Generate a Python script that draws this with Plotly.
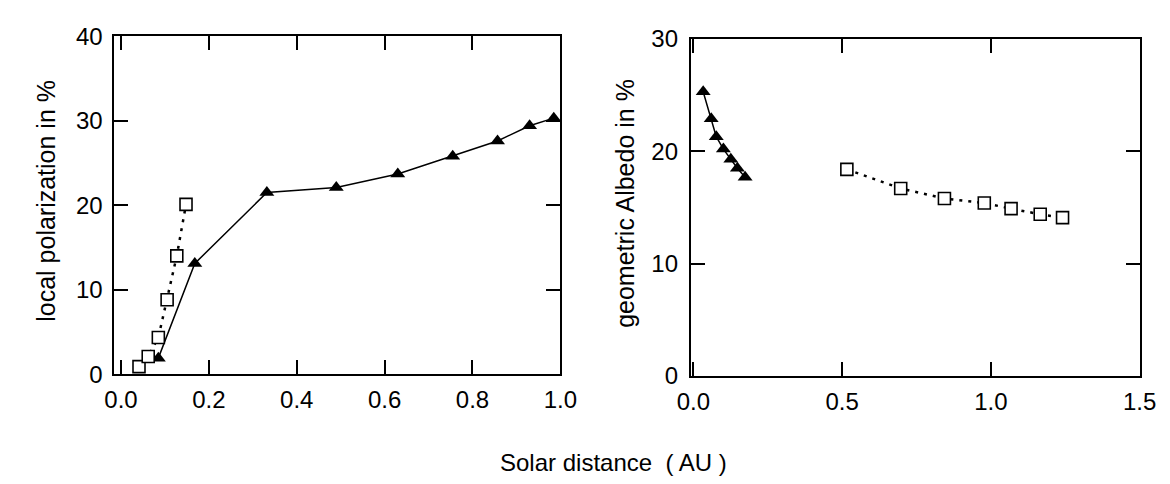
import plotly.graph_objects as go

# Left panel: local polarization vs solar distance
pol_tri_x = [0.085, 0.168, 0.332, 0.49, 0.63, 0.755, 0.857, 0.93, 0.985]
pol_tri_y = [1.9, 13.1, 21.5, 22.1, 23.7, 25.8, 27.6, 29.4, 30.3]
pol_sq_x = [0.041, 0.062, 0.085, 0.105, 0.127, 0.148]
pol_sq_y = [0.9, 2.1, 4.35, 8.8, 14.0, 20.1]

# Right panel: geometric albedo vs solar distance
alb_tri_x = [0.033, 0.06, 0.077, 0.101, 0.126, 0.148, 0.174]
alb_tri_y = [25.3, 22.9, 21.3, 20.2, 19.3, 18.5, 17.7]
alb_sq_x = [0.516, 0.697, 0.844, 0.978, 1.068, 1.166, 1.241]
alb_sq_y = [18.4, 16.7, 15.8, 15.4, 14.9, 14.4, 14.1]

left_xticks = [0.0, 0.2, 0.4, 0.6, 0.8, 1.0]
left_yticks = [0, 10, 20, 30, 40]
right_xticks = [0.0, 0.5, 1.0, 1.5]
right_yticks = [0, 10, 20, 30]

FONT = "Liberation Sans, Arial, sans-serif"
FS = 24
W, H = 1170, 484

fig = go.Figure()

tri_marker = dict(symbol="triangle-up", size=13, color="black")
sq_marker = dict(symbol="square", size=12, color="white", line=dict(color="black", width=1.6))
dotted = dict(color="black", width=2.5, dash="3px,6px")

fig.add_trace(go.Scatter(x=pol_tri_x, y=pol_tri_y, mode="lines+markers",
                         line=dict(color="black", width=1.5), marker=tri_marker,
                         xaxis="x", yaxis="y", showlegend=False))
fig.add_trace(go.Scatter(x=pol_sq_x, y=pol_sq_y, mode="lines+markers",
                         line=dotted, marker=sq_marker,
                         xaxis="x", yaxis="y", showlegend=False))
fig.add_trace(go.Scatter(x=alb_tri_x, y=alb_tri_y, mode="lines+markers",
                         line=dict(color="black", width=1.5), marker=tri_marker,
                         xaxis="x2", yaxis="y2", showlegend=False))
fig.add_trace(go.Scatter(x=alb_sq_x, y=alb_sq_y, mode="lines+markers",
                         line=dotted, marker=sq_marker,
                         xaxis="x2", yaxis="y2", showlegend=False))

def px_x(p):
    return p / W

def px_y(p):
    return (H - p) / H

axis_common = dict(showline=True, linecolor="black", linewidth=2, mirror="allticks",
                   ticks="inside", ticklen=14, tickwidth=1.5, tickcolor="black",
                   showgrid=False, zeroline=False,
                   tickfont=dict(family=FONT, size=FS, color="black"))

fig.update_layout(
    width=W, height=H,
    margin=dict(l=0, r=0, t=0, b=0),
    plot_bgcolor="white", paper_bgcolor="white",
    font=dict(family=FONT, size=FS, color="black"),
    xaxis=dict(domain=[px_x(95), px_x(553)], range=[-0.0148, 1.0],
               tickvals=left_xticks, ticktext=[f"{v:.1f}" for v in left_xticks],
               anchor="y", ticklabelstandoff=3, **axis_common),
    yaxis=dict(domain=[px_y(373), px_y(15)], range=[0, 40],
               tickvals=left_yticks, anchor="x", ticklabelstandoff=5,
               **axis_common),
    xaxis2=dict(domain=[px_x(687), px_x(1148)], range=[-0.0086, 1.5],
                tickvals=right_xticks, ticktext=[f"{v:.1f}" for v in right_xticks],
                anchor="y2", ticklabelstandoff=3, **axis_common),
    yaxis2=dict(domain=[px_y(375), px_y(18)], range=[0, 30],
                tickvals=right_yticks, anchor="x2", ticklabelstandoff=6,
                **axis_common),
    annotations=[
        dict(text="Solar distance  ( AU )", x=608 / W, y=px_y(467),
             xref="paper", yref="paper", showarrow=False,
             xanchor="center", yanchor="middle",
             font=dict(family=FONT, size=24, color="black")),
        dict(text="local polarization in %", x=px_x(25), y=px_y(189),
             xref="paper", yref="paper", showarrow=False, textangle=-90,
             xanchor="center", yanchor="middle",
             font=dict(family=FONT, size=25, color="black")),
        dict(text="geometric Albedo in %", x=px_x(620), y=px_y(192),
             xref="paper", yref="paper", showarrow=False, textangle=-90,
             xanchor="center", yanchor="middle",
             font=dict(family=FONT, size=25, color="black")),
    ],
)

fig.write_html("out.html")
